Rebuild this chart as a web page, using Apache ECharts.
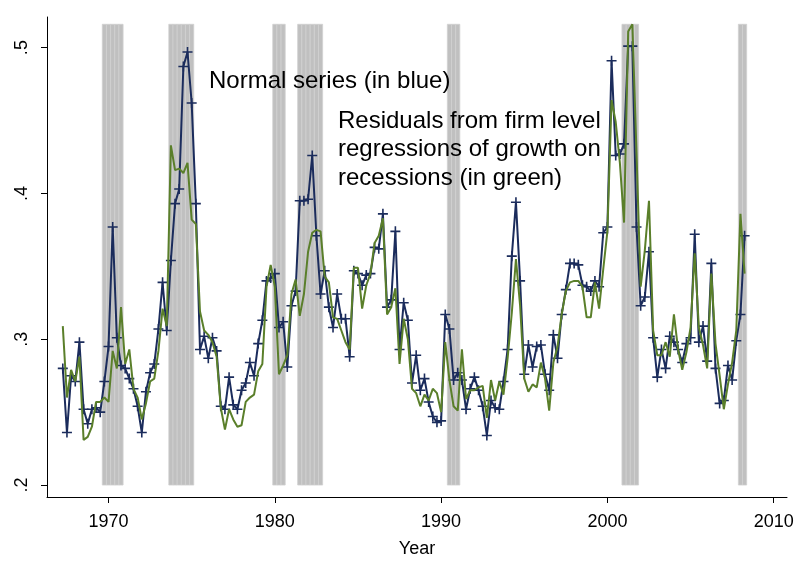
<!DOCTYPE html>
<html>
<head>
<meta charset="utf-8">
<script src="https://cdn.jsdelivr.net/npm/echarts@6/dist/echarts.min.js"></script>
<style>
  html, body { margin: 0; padding: 0; background: #fff; }
  #chart { width: 799px; height: 563px; }
</style>
</head>
<body>
<div id="chart"></div>
<script>
// Quarterly observations, 1967Q2 through 2008Q2 (plotted at year + (quarter-1)/4)
const firstQuarter = 1967.25;

// Normal series (blue, plus markers)
const normalSeries = [
  0.280, 0.236, 0.275, 0.271, 0.298, 0.252, 0.242, 0.252, 0.253, 0.250,
  0.271, 0.295, 0.377, 0.301, 0.282, 0.280, 0.273, 0.266, 0.254, 0.236,
  0.264, 0.277, 0.283, 0.307, 0.339, 0.306, 0.354, 0.393, 0.403, 0.487,
  0.497, 0.462, 0.393, 0.293, 0.302, 0.287, 0.301, 0.292, 0.254, 0.252,
  0.274, 0.255, 0.252, 0.265, 0.270, 0.284, 0.275, 0.297, 0.313, 0.340,
  0.342, 0.345, 0.308, 0.312, 0.281, 0.323, 0.333, 0.395, 0.395, 0.396,
  0.426, 0.371, 0.331, 0.347, 0.322, 0.308, 0.331, 0.314, 0.314, 0.288,
  0.347, 0.345, 0.337, 0.344, 0.345, 0.363, 0.362, 0.386, 0.322, 0.327,
  0.374, 0.293, 0.325, 0.313, 0.270, 0.289, 0.265, 0.273, 0.257, 0.247,
  0.243, 0.244, 0.317, 0.307, 0.272, 0.277, 0.272, 0.252, 0.266, 0.274,
  0.265, 0.254, 0.234, 0.258, 0.253, 0.252, 0.271, 0.293, 0.357, 0.394,
  0.340, 0.276, 0.296, 0.281, 0.295, 0.296, 0.276, 0.265, 0.303, 0.287,
  0.317, 0.334, 0.352, 0.352, 0.351, 0.337, 0.336, 0.333, 0.340, 0.336,
  0.373, 0.377, 0.491, 0.426, 0.427, 0.434, 0.501, 0.501, 0.377, 0.323,
  0.329, 0.360, 0.301, 0.274, 0.293, 0.280, 0.302, 0.298, 0.293, 0.284,
  0.297, 0.301, 0.372, 0.298, 0.309, 0.285, 0.352, 0.280, 0.256, 0.258,
  0.282, 0.272, 0.299, 0.317, 0.371
];

// Residuals from firm level regressions of growth on recessions (green)
const residualSeries = [
  0.309, 0.260, 0.279, 0.271, 0.288, 0.231, 0.233, 0.240, 0.257, 0.257,
  0.260, 0.257, 0.292, 0.280, 0.322, 0.283, 0.293, 0.266, 0.260, 0.245,
  0.256, 0.271, 0.273, 0.292, 0.321, 0.309, 0.433, 0.416, 0.417, 0.414,
  0.421, 0.382, 0.379, 0.319, 0.306, 0.303, 0.298, 0.288, 0.253, 0.238,
  0.252, 0.245, 0.240, 0.241, 0.257, 0.260, 0.262, 0.278, 0.283, 0.336,
  0.351, 0.336, 0.276, 0.282, 0.289, 0.331, 0.341, 0.316, 0.331, 0.360,
  0.373, 0.375, 0.374, 0.343, 0.339, 0.315, 0.314, 0.306, 0.298, 0.293,
  0.349, 0.349, 0.321, 0.337, 0.345, 0.366, 0.371, 0.383, 0.317, 0.322,
  0.335, 0.283, 0.314, 0.300, 0.266, 0.263, 0.254, 0.262, 0.258, 0.266,
  0.263, 0.250, 0.298, 0.272, 0.254, 0.251, 0.293, 0.259, 0.265, 0.265,
  0.267, 0.268, 0.246, 0.272, 0.258, 0.271, 0.262, 0.287, 0.318, 0.355,
  0.323, 0.273, 0.264, 0.269, 0.267, 0.284, 0.273, 0.251, 0.284, 0.295,
  0.317, 0.333, 0.339, 0.340, 0.340, 0.336, 0.315, 0.315, 0.339, 0.321,
  0.348, 0.374, 0.464, 0.449, 0.421, 0.380, 0.511, 0.516, 0.428, 0.336,
  0.361, 0.395, 0.306, 0.289, 0.289, 0.298, 0.288, 0.317, 0.293, 0.279,
  0.291, 0.308, 0.359, 0.308, 0.296, 0.280, 0.345, 0.297, 0.275, 0.252,
  0.269, 0.284, 0.306, 0.386, 0.345
];

// NBER recessions, first and last quarter of each
const recessions = [
  [1969.75, 1970.75],
  [1973.75, 1975.00],
  [1980.00, 1980.50],
  [1981.50, 1982.75],
  [1990.50, 1991.00],
  [2001.00, 2001.75],
  [2008.00, 2008.25]
];

// Axis ticks
const xTicks = [1970, 1980, 1990, 2000, 2010];
const yTicks = [0.2, 0.3, 0.4, 0.5];

// ---- derived structures ----
const quarterOf = i => firstQuarter + i * 0.25;
const blueData = normalSeries.map((v, i) => [quarterOf(i), v]);
const greenData = residualSeries.map((v, i) => [quarterOf(i), v]);

const recessionQuarters = [];
recessions.forEach(([a, b]) => {
  for (let q = a; q <= b + 1e-9; q += 0.25) recessionQuarters.push(q);
});
const shadeBottom = 0.2;
const shadeTop = Math.max(...normalSeries, ...residualSeries);

const NAVY = '#1b2c5c';
const GREEN = '#5a7f2a';
const FONT = '"Liberation Sans", Arial, Helvetica, sans-serif';

// plus-sign marker
const plusPath = 'path://M-0.16,-1 L0.16,-1 L0.16,-0.16 L1,-0.16 L1,0.16 L0.16,0.16 L0.16,1 L-0.16,1 L-0.16,0.16 L-1,0.16 L-1,-0.16 L-0.16,-0.16 Z';

const chart = echarts.init(document.getElementById('chart'), null, { renderer: 'canvas' });

chart.setOption({
  animation: false,
  backgroundColor: '#ffffff',
  grid: { left: 47, right: 12, top: 17, bottom: 55, containLabel: false },
  xAxis: {
    type: 'value',
    min: 1966.3,
    max: 2010.8,
    name: 'Year',
    nameLocation: 'middle',
    nameGap: 43,
    nameTextStyle: { fontFamily: FONT, fontSize: 18, color: '#000' },
    axisLine: { show: true, onZero: false, lineStyle: { color: '#000', width: 1 } },
    axisTick: { show: true, length: 6, customValues: xTicks, lineStyle: { color: '#000', width: 1 } },
    axisLabel: {
      customValues: xTicks, margin: 16, fontFamily: FONT, fontSize: 18, color: '#000',
      formatter: v => String(Math.round(v))
    },
    splitLine: { show: false }
  },
  yAxis: {
    type: 'value',
    min: 0.1918,
    max: 0.521,
    axisLine: { show: true, onZero: false, lineStyle: { color: '#000', width: 1 } },
    axisTick: { show: true, length: 6, customValues: yTicks, lineStyle: { color: '#000', width: 1 } },
    axisLabel: {
      customValues: yTicks,
      rotate: 90,
      margin: 16,
      fontFamily: FONT,
      fontSize: 18,
      color: '#000',
      formatter: v => '.' + Math.round(v * 10)
    },
    splitLine: { show: false }
  },
  graphic: [
    {
      type: 'text', left: 209, top: 69, z: 100, silent: true,
      style: { text: 'Normal series (in blue)', font: '24px ' + FONT, fill: '#000' }
    },
    {
      type: 'text', left: 338, top: 107, z: 100, silent: true,
      style: {
        text: 'Residuals from firm level\nregressions of growth on\nrecessions (in green)',
        font: '24px ' + FONT, lineHeight: 28.5, fill: '#000'
      }
    }
  ],
  series: [
    {
      name: 'Recession',
      type: 'custom',
      silent: true,
      z: 1,
      data: recessionQuarters.map(q => [q, shadeTop]),
      encode: { x: 0, y: 1 },
      renderItem: (params, api) => {
        const q = api.value(0);
        const p0 = api.coord([q - 0.125, shadeTop]);
        const p1 = api.coord([q + 0.125, shadeBottom]);
        return {
          type: 'rect',
          shape: { x: p0[0], y: p0[1], width: p1[0] - p0[0], height: p1[1] - p0[1] },
          style: { fill: '#c0c0c0', stroke: '#d0d0d0', lineWidth: 0.8 }
        };
      }
    },
    {
      name: 'Normal series',
      type: 'line',
      z: 3,
      data: blueData,
      symbol: plusPath,
      symbolSize: 10,
      showAllSymbol: true,
      itemStyle: { color: NAVY },
      lineStyle: { color: NAVY, width: 2 },
      emphasis: { disabled: true }
    },
    {
      name: 'Residuals',
      type: 'line',
      z: 4,
      data: greenData,
      symbol: 'none',
      lineStyle: { color: GREEN, width: 2 },
      emphasis: { disabled: true }
    }
  ]
});
</script>
</body>
</html>
